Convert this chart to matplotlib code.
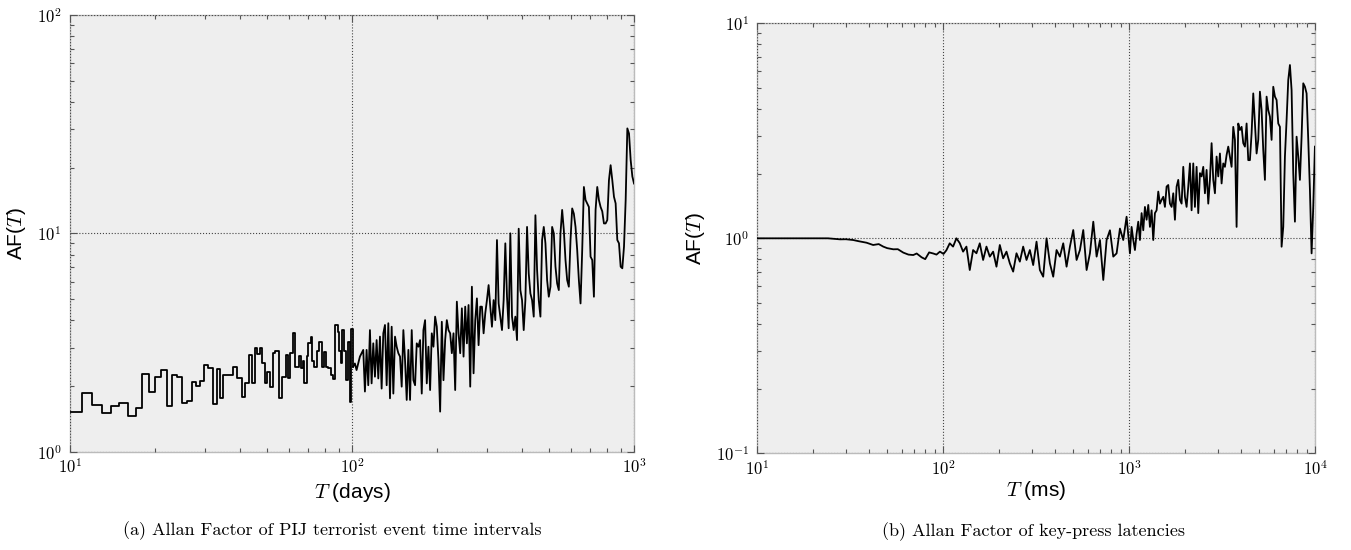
import numpy as np
import matplotlib
matplotlib.use('Agg')
import matplotlib.pyplot as plt
from matplotlib.ticker import FuncFormatter, LogLocator, NullFormatter

plt.rcParams['mathtext.fontset'] = 'cm'
plt.rcParams['font.family'] = ['Liberation Sans', 'DejaVu Sans']

# ---- (a) PIJ terrorist event intervals ----
# coarse part (drawn as steps)
pij_T_steps = [10.0, 11.03, 12.0, 13.0, 13.98, 14.96, 16.0, 17.1, 18.05, 19.0,
               20.07, 21.0, 22.0, 23.0, 24.0, 25.0, 26.06, 27.07, 27.9, 28.9,
               29.9, 30.9, 32.1, 33.1, 34.0, 35.0, 37.8, 39.0, 40.8, 41.8,
               43.1, 44.1, 45.2, 46.1, 47.1, 48.1, 49.2, 50.1, 51.3, 52.6,
               53.5, 55.2, 56.3, 58.3, 59.3, 60.3, 61.6, 62.8, 65.0, 65.8,
               67.2, 67.6, 69.1, 70.0, 71.4, 72.3, 73.3, 75.0, 76.4, 78.1,
               79.6, 80.9, 82.4, 84.0, 85.4, 87.3, 89.0, 89.9, 91.2, 92.4,
               93.4, 95.2, 96.8, 98.4, 99.4]
pij_AF_steps = [1.52, 1.86, 1.64, 1.51, 1.63, 1.675, 1.46, 1.585, 2.27, 1.88,
                2.21, 2.37, 1.62, 2.25, 2.21, 1.68, 1.71, 2.08, 2.0, 2.12,
                2.51, 2.41, 1.66, 2.40, 1.76, 2.24, 2.45, 2.19, 1.79, 2.06,
                2.78, 2.06, 3.0, 2.80, 3.0, 2.54, 2.07, 2.31, 1.99, 2.83,
                2.9, 1.77, 2.21, 2.78, 2.19, 2.83, 3.49, 2.45, 2.75, 2.42,
                2.6, 2.07, 2.75, 3.16, 3.35, 2.6, 2.45, 2.9, 3.2, 2.46,
                2.87, 2.45, 2.42, 2.24, 2.15, 3.81, 3.55, 2.9, 2.55, 3.63,
                2.9, 2.13, 3.2, 1.70, 3.67]

# dense part, log-spaced T from ~101 to 1000 days
pij_AF_dense = [2.46, 2.54, 2.37, 2.54, 2.73, 2.83, 2.93, 1.89, 2.93, 2.02,
                3.61, 2.06, 3.14, 2.21, 3.25, 2.17, 3.37, 1.95, 3.49, 3.81,
                2.02, 3.88, 1.76, 3.74, 1.85, 3.37, 3.03, 2.83, 2.73, 1.99,
                3.61, 2.63, 1.73, 2.93, 1.73, 3.61, 2.13, 2.02, 3.14, 3.03,
                3.25, 1.85, 3.61, 4.01, 2.06, 3.03, 1.92, 3.49, 3.03, 4.16,
                3.74, 2.63, 1.53, 3.94, 2.13, 3.25, 4.01, 3.61, 3.49, 2.83,
                3.49, 1.92, 4.87, 3.49, 2.83, 4.54, 2.73, 4.62, 3.14, 4.70,
                1.99, 5.70, 2.29, 4.01, 5.04, 3.08, 4.62, 4.62, 3.49, 4.31,
                4.95, 5.80, 4.62, 3.74, 4.95, 4.01, 9.32, 4.78, 4.16, 3.61,
                4.95, 9.0, 5.13, 3.68, 10.0, 4.16, 3.61, 4.16, 3.25, 10.5,
                5.50, 4.95, 3.61, 4.95, 10.7, 6.56, 5.31, 4.95, 4.16, 12.1,
                6.80, 4.95, 4.16, 9.32, 10.7, 9.0, 6.11, 5.13, 5.70, 10.7,
                10.0, 7.04, 5.90, 5.50, 10.0, 12.8, 10.35, 7.55, 6.11, 5.70,
                9.32, 13.0, 12.3, 10.7, 8.39, 6.11, 4.78, 8.39, 16.3, 14.2,
                13.7, 13.2, 7.82, 7.55, 5.13, 12.8, 16.3, 14.2, 13.2, 12.6,
                11.1, 11.1, 11.5, 17.5, 20.5, 17.5, 14.7, 13.7, 9.32, 9.0,
                7.04, 6.92, 8.69, 14.2, 30.2, 28.6, 21.6, 18.2, 16.9]
pij_T_dense = np.geomspace(101.0, 1000.0, len(pij_AF_dense))

# ---- (b) key-press latencies ----
kp_T_head = [10, 24, 27.9, 30, 32.8, 35, 38.7, 42.0, 45, 47.6, 50, 53.9,
             57, 61.0, 65, 69.0, 72, 76.5, 80, 84, 88.4, 92, 96.0, 100.4]
kp_AF_head = [1.0, 1.0, 0.989, 0.99, 0.982, 0.97, 0.954, 0.931, 0.94, 0.915,
              0.90, 0.889, 0.89, 0.858, 0.84, 0.836, 0.85, 0.816, 0.80, 0.86,
              0.85, 0.84, 0.867, 0.846]

kp_AF_mid1 = [0.88, 0.948, 0.915, 1.0, 0.95, 0.867, 0.915, 0.712, 0.882, 0.852,
              0.948, 0.793, 0.915, 0.822, 0.867, 0.738, 0.931, 0.807, 0.867, 0.765,
              0.700, 0.852, 0.779, 0.915, 0.793, 0.882, 0.751, 0.965, 0.712, 0.663,
              1.0, 0.765, 0.663, 0.882, 0.822, 0.948, 0.738, 0.915, 1.093, 0.793,
              0.882, 1.093, 0.712, 0.852]
kp_T_mid1 = np.geomspace(104, 615, len(kp_AF_mid1))

kp_AF_mid2 = [1.195, 0.822, 0.982, 0.640, 0.982, 1.09, 0.822, 0.851, 1.11, 0.982, 1.26]
kp_T_mid2 = np.geomspace(641, 968, len(kp_AF_mid2))

kp_AF_tail = [0.851, 1.13, 0.982, 0.882, 1.05, 1.195, 0.982, 1.31, 1.09, 1.40,
              1.22, 1.43, 1.13, 1.35, 0.982, 1.31, 1.35, 1.65, 1.45, 1.51,
              1.56, 1.40, 1.74, 1.77, 1.45, 1.40, 1.62, 1.22, 1.74, 1.87,
              1.51, 1.45, 2.15, 1.56, 1.40, 1.74, 2.23, 1.35, 2.23, 1.40,
              2.15, 1.31, 2.01, 1.94, 2.15, 1.62, 2.08, 1.45, 1.87, 2.77,
              1.87, 1.62, 2.40, 1.94, 2.48, 1.80, 2.23, 2.15, 2.44, 2.67,
              2.40, 2.15, 3.30, 2.87, 1.13, 3.42, 3.19, 3.30, 2.77, 2.67,
              3.42, 2.31, 2.31, 3.08, 4.72, 3.42, 2.48, 2.87, 4.81, 3.95,
              2.57, 1.87, 4.56, 3.95, 3.68, 2.87, 5.07, 4.56, 4.40, 3.42,
              3.30, 0.914, 1.13, 2.40, 3.55, 5.45, 6.40, 4.89, 2.01, 1.195,
              2.97, 2.40, 1.87, 2.97, 5.26, 5.07, 4.72, 2.87, 1.68, 0.851,
              1.40, 2.67]
kp_T_tail = np.geomspace(1009, 9966, len(kp_AF_tail))


def decade_label(v, pos):
    return r'$10^{%d}$' % int(round(np.log10(v)))


def style(ax):
    ax.set_xscale('log')
    ax.set_yscale('log')
    ax.set_facecolor('#eeeeee')
    for s in ax.spines.values():
        s.set_color('#bbbbbb')
        s.set_linewidth(1.0)
        s.set_zorder(1.0)
    ax.grid(True, which='major', linestyle=':', color='#444444', linewidth=0.8)
    ax.tick_params(which='both', direction='in', top=True, right=True,
                   colors='#555555', labelcolor='black', labelsize=12)
    ax.tick_params(which='major', length=5, width=0.8)
    ax.tick_params(which='minor', length=3, width=0.8)
    ax.tick_params(axis='y', which='major', pad=6)
    ax.tick_params(axis='x', which='major', pad=4)
    for axis in (ax.xaxis, ax.yaxis):
        axis.set_major_locator(LogLocator(base=10))
        axis.set_minor_locator(LogLocator(base=10, subs=np.arange(2, 10)))
        axis.set_major_formatter(FuncFormatter(decade_label))
        axis.set_minor_formatter(NullFormatter())


fig = plt.figure(figsize=(13.51, 5.5), dpi=100)

ax1 = fig.add_axes([0.0518, 0.1782, 0.4175, 0.7951])
style(ax1)
ax1.plot(pij_T_steps + [pij_T_dense[0]], pij_AF_steps + [pij_AF_dense[0]],
         color='black', lw=1.3, drawstyle='steps-post')
ax1.plot(pij_T_dense, pij_AF_dense, color='black', lw=1.3)
ax1.set_xlim(10, 1000)
ax1.set_ylim(1, 100)
ax1.set_ylabel('AF($T$)', fontsize=15)
ax1.yaxis.set_label_coords(-0.074, 0.5)
ax1.set_xlabel('$T$ (days)', fontsize=15)
ax1.xaxis.set_label_coords(0.5, -0.066)

ax2 = fig.add_axes([0.5605, 0.1758, 0.4130, 0.7818])
style(ax2)
kp_T = list(kp_T_head) + list(kp_T_mid1) + list(kp_T_mid2) + list(kp_T_tail)
kp_AF = kp_AF_head + kp_AF_mid1 + kp_AF_mid2 + kp_AF_tail
ax2.plot(kp_T, kp_AF, color='black', lw=1.3)
ax2.set_xlim(10, 10000)
ax2.set_ylim(0.1, 10)
ax2.set_ylabel('AF($T$)', fontsize=15)
ax2.yaxis.set_label_coords(-0.09, 0.5)
ax2.set_xlabel('$T$ (ms)', fontsize=15)
ax2.xaxis.set_label_coords(0.5, -0.06)

fig.text(0.2457, 0.036, '(a) Allan Factor of PIJ terrorist event time intervals',
         ha='center', va='center', family='cmr10', fontsize=13)
fig.text(0.765, 0.033, '(b) Allan Factor of key-press latencies',
         ha='center', va='center', family='cmr10', fontsize=13)

fig.savefig('out.png', dpi=100)
